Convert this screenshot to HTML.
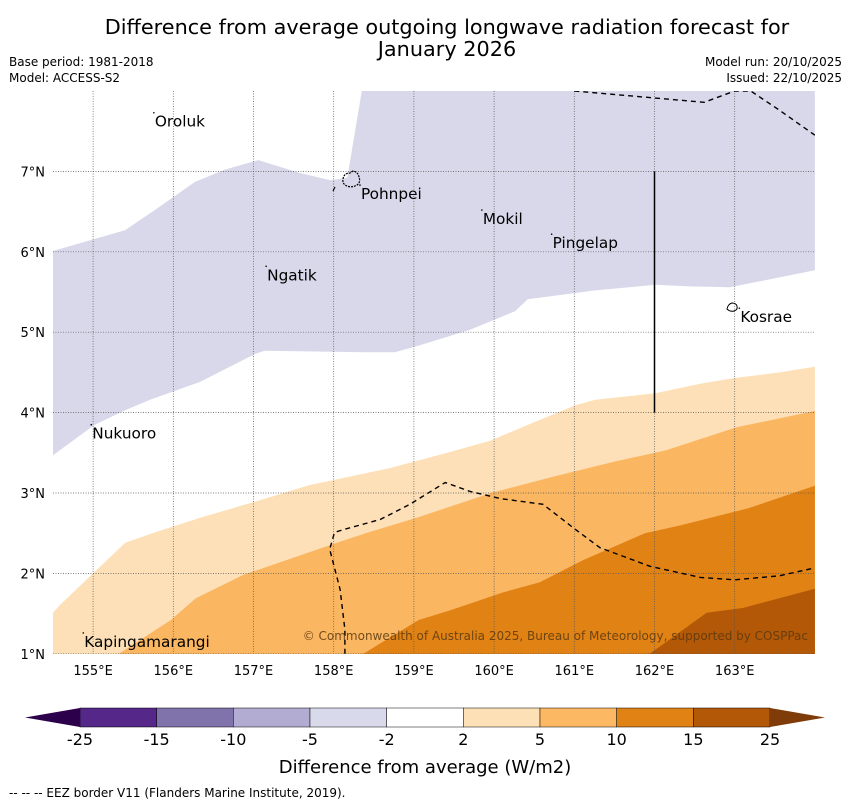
<!DOCTYPE html>
<html><head><meta charset="utf-8"><style>
body{margin:0;background:#fff;}
svg text{font-family:"DejaVu Sans","Liberation Sans",sans-serif;}
</style></head><body>
<svg id="chart" width="850" height="804" viewBox="0 0 850 804" xmlns="http://www.w3.org/2000/svg">
<text x="447" y="34" font-size="20.8" text-anchor="middle">Difference from average outgoing longwave radiation forecast for</text>
<text x="447" y="56" font-size="20.8" text-anchor="middle">January 2026</text>
<text x="9" y="66" font-size="12">Base period: 1981-2018</text>
<text x="9" y="82" font-size="12">Model: ACCESS-S2</text>
<text x="842" y="66" font-size="12" text-anchor="end">Model run: 20/10/2025</text>
<text x="842" y="82" font-size="12" text-anchor="end">Issued: 22/10/2025</text>
<defs><clipPath id="mapclip"><rect x="53" y="91" width="762" height="563"/></clipPath></defs>
<g id="map" clip-path="url(#mapclip)"></g>
<g id="axes"></g>
<g id="cbar"></g>
<text x="425" y="773" font-size="18" text-anchor="middle">Difference from average (W/m2)</text>
<text x="9" y="797" font-size="12">--  --  -- EEZ border V11 (Flanders Marine Institute, 2019).</text>
</svg>
<script>
const lonTicks=[155,156,157,158,159,160,161,162,163];
const latTicks=[1,2,3,4,5,6,7];
const lavender=[[154.5,6.01],[155.40,6.27],[155.77,6.52],[156.27,6.87],[156.64,7.02],[157.06,7.14],[157.58,6.98],[157.96,6.89],[158.17,6.92],[158.35,8.0],[164.0,8.0],[164.0,5.77],[162.94,5.56],[162.44,5.57],[162.01,5.59],[161.26,5.52],[160.42,5.41],[160.26,5.26],[159.70,5.03],[159.08,4.84],[158.76,4.75],[158.39,4.75],[157.14,4.77],[157.02,4.73],[156.33,4.38],[155.71,4.16],[155.40,4.03],[155.02,3.85],[154.5,3.47]];
const peachEdge=[[154.5,1.51],[154.59,1.61],[155.0,2.0],[155.40,2.38],[155.77,2.51],[156.33,2.69],[157.08,2.91],[157.70,3.10],[157.95,3.15],[158.70,3.31],[159.45,3.51],[159.95,3.65],[160.45,3.86],[161.01,4.09],[161.26,4.16],[162.01,4.24],[162.57,4.36],[163.0,4.43],[163.56,4.50],[164.0,4.57]];
const orangeEdge=[[155.32,1.0],[155.97,1.42],[156.28,1.69],[156.87,1.98],[158.04,2.38],[158.43,2.51],[159.06,2.70],[159.96,3.0],[160.73,3.20],[161.50,3.39],[162.14,3.53],[163.03,3.82],[164.0,4.02]];
const darkEdge=[[158.37,1.0],[159.06,1.42],[159.45,1.54],[160.10,1.76],[160.57,1.89],[161.12,2.17],[161.88,2.50],[162.33,2.60],[163.17,2.81],[164.0,3.09]];
const brownEdge=[[161.94,1.0],[162.65,1.51],[163.10,1.57],[164.0,1.81]];
const cbLevels=["-25","-15","-10","-5","-2","2","5","10","15","25"];
const cbColors=["#542788","#8073ac","#b2abd2","#d8daeb","#ffffff","#fee0b6","#fdb863","#e08214","#b35806"];
const islands=[["Oroluk",155.77,7.63],["Pohnpei",158.34,6.73],["Mokil",159.86,6.42],["Pingelap",160.73,6.12],["Ngatik",157.17,5.72],["Kosrae",163.07,5.20],["Nukuoro",154.99,3.75],["Kapingamarangi",154.89,1.16]];
const eez1=[[158.14,1.0],[158.14,1.3],[158.08,1.8],[157.95,2.3],[158.01,2.51],[158.14,2.55],[158.58,2.67],[158.95,2.86],[159.39,3.13],[159.70,3.02],[160.08,2.93],[160.61,2.86],[161.01,2.55],[161.32,2.32],[161.94,2.09],[162.57,1.95],[163.0,1.92],[163.56,1.97],[164.0,2.07]];
const eez2=[[161.0,8.0],[162.62,7.86],[163.0,8.0],[163.2,8.0],[163.56,7.76],[164.0,7.45]];
const X=lon=>53+(lon-154.5)*80.2, Y=lat=>91+(8-lat)*80.4;
const NS='http://www.w3.org/2000/svg';
function mk(tag,attrs,parent){const e=document.createElementNS(NS,tag);for(const k in attrs)e.setAttribute(k,attrs[k]);parent.appendChild(e);return e;}
const map=document.getElementById('map'),axes=document.getElementById('axes'),cbar=document.getElementById('cbar');
const pts=a=>a.map(p=>X(p[0]).toFixed(1)+','+Y(p[1]).toFixed(1)).join(' ');
function band(edge,color,name){const e=mk('polygon',{points:pts(edge.concat([[164,0.9],[154.5,0.9]])),fill:color},map);

}
const lv=mk('polygon',{points:pts(lavender),fill:'#d8d8ea'},map);


band(peachEdge,'#fde0b7','contour-2-5');
band(orangeEdge,'#fbb661','contour-5-10');
band(darkEdge,'#e08214','contour-10-15');
band(brownEdge,'#b35806','contour-15-25');
lonTicks.forEach(l=>{const g=mk('line',{x1:X(l),x2:X(l),y1:91,y2:654,stroke:'#555',"stroke-width":0.7,"stroke-dasharray":"1,1.5"},map);


const t=mk('text',{x:X(l),y:675,"font-size":13,"text-anchor":"middle"},axes);t.textContent=l+'°E';

});
latTicks.forEach(l=>{const g=mk('line',{x1:53,x2:815,y1:Y(l),y2:Y(l),stroke:'#555',"stroke-width":0.7,"stroke-dasharray":"1,1.5"},map);


const t=mk('text',{x:45,y:Y(l)+5,"font-size":13,"text-anchor":"end"},axes);t.textContent=l+'°N';

});
[eez1,eez2].forEach(a=>{const e=mk('polyline',{points:pts(a),fill:'none',stroke:'#000',"stroke-width":1.4,"stroke-dasharray":"5,4"},map);

});
const vl=mk('line',{x1:X(162),x2:X(162),y1:Y(7),y2:Y(4),stroke:'#000',"stroke-width":1.5},map);


const ph=mk('path',{d:'M343,179 q1,-6 7,-6 l3,-2 q5,1 6,6 q2,5 -2,8 q-5,3 -10,1 q-5,-2 -4,-7z',fill:'none',stroke:'#000',"stroke-width":1.2,"stroke-dasharray":"2,1"},map);


const ps=mk('line',{x1:333,y1:191,x2:335,y2:187,stroke:'#000',"stroke-width":1.2},map);


const ks=mk('path',{d:'M727,309 q1,-5 5,-6 q4,0 5,3 q1,4 -3,5 q-4,1 -7,-2z',fill:'none',stroke:'#000',"stroke-width":1},map);


islands.forEach(d=>{const t=mk('text',{x:X(d[1]),y:Y(d[2])+6,"font-size":15.3},map);t.textContent=d[0];


const m=mk('circle',{cx:X(d[1])-1,cy:Y(d[2])-8,r:0.8,fill:'#000'},map);

});
const cr=mk('text',{x:808,y:640,"font-size":12,"text-anchor":"end",fill:'#5a3a10',"fill-opacity":0.85},map);cr.textContent='© Commonwealth of Australia 2025, Bureau of Meteorology, supported by COSPPac';


const cx0=80,cx1=770,cy=708,ch=19,sw=(cx1-cx0)/cbColors.length;
cbColors.forEach((c,i)=>{const r=mk('rect',{x:cx0+i*sw,y:cy,width:sw,height:ch,fill:c,stroke:'#000',"stroke-width":0.5},cbar);

});
const tl=mk('polygon',{points:`${cx0},${cy} 25,${cy+ch/2} ${cx0},${cy+ch}`,fill:'#2d004b'},cbar);


const tr=mk('polygon',{points:`${cx1},${cy} 825,${cy+ch/2} ${cx1},${cy+ch}`,fill:'#7f3b08'},cbar);


cbLevels.forEach((v,i)=>{const t=mk('text',{x:cx0+i*sw,y:745,"font-size":16,"text-anchor":"middle"},cbar);t.textContent=v;

});
</script>
</body></html>
